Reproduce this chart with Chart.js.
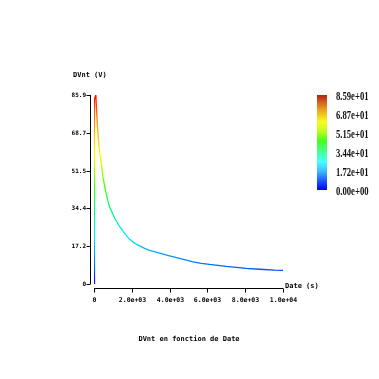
<!DOCTYPE html>
<html><head><meta charset="utf-8">
<script src="https://cdn.jsdelivr.net/npm/chart.js@4/dist/chart.umd.min.js"></script>
<style>html,body{margin:0;padding:0;background:#fff}canvas{display:block}</style>
</head><body>
<canvas id="c" width="379" height="379"></canvas>
<script>
const timeValues = [0, 10, 40, 95, 145, 200, 260, 330, 400, 470, 540, 620, 700, 770, 830, 1095, 1360, 1620, 1890, 2150, 2420, 2680, 2950, 3480, 4000, 4530, 4890, 5240, 5680, 6120, 6560, 7000, 7530, 8060, 8770, 9560, 10000];
const dvntValues = [0, 61, 84, 85.9, 77.7, 69.7, 63, 58, 54, 49, 45.5, 42, 39, 36.5, 35, 29.9, 26.1, 23.0, 20.3, 18.5, 17.3, 16.2, 15.3, 14.0, 12.8, 11.7, 10.8, 10.1, 9.4, 8.9, 8.5, 8.0, 7.6, 7.1, 6.7, 6.3, 6.2];
const xTickValues = [0, 2000, 4000, 6000, 8000, 10000];
const xTickLabels = ['0', '2.0e+03', '4.0e+03', '6.0e+03', '8.0e+03', '1.0e+04'];
const yTickValues = [0, 17.2, 34.4, 51.5, 68.7, 85.9];
const yTickLabels = ['0', '17.2', '34.4', '51.5', '68.7', '85.9'];
const colorbarValues = [85.9, 68.7, 51.5, 34.4, 17.2, 0];
const colorbarLabels = ['8.59e+01', '6.87e+01', '5.15e+01', '3.44e+01', '1.72e+01', '0.00e+00'];
const xTitle = 'Date (s)';
const yTitle = 'DVnt (V)';
const chartTitle = 'DVnt en fonction de Date';
const vMin = 0, vMax = 85.9, tMin = 0, tMax = 10000;

const lineStops = [
  [0.0, 'rgb(0,0,255)'], [0.1, 'rgb(0,110,255)'], [0.25, 'rgb(0,235,255)'],
  [0.4, 'rgb(0,255,120)'], [0.52, 'rgb(80,255,0)'], [0.68, 'rgb(255,255,0)'],
  [0.85, 'rgb(255,150,0)'], [1.0, 'rgb(255,0,0)']
];
const barStops = [
  [0.0, 'rgb(0,0,255)'], [0.1, 'rgb(30,90,255)'], [0.2, 'rgb(60,190,255)'],
  [0.3, 'rgb(70,255,255)'], [0.42, 'rgb(70,255,130)'], [0.52, 'rgb(70,255,30)'],
  [0.62, 'rgb(190,255,30)'], [0.72, 'rgb(250,250,30)'], [0.85, 'rgb(230,160,30)'],
  [0.93, 'rgb(210,90,30)'], [1.0, 'rgb(180,30,20)']
];

const axesPlugin = {
  id: 'axesPlugin',
  afterDraw(chart) {
    const c = chart.ctx, xs = chart.scales.x, ys = chart.scales.y;
    const yAxisX = 90.5, xAxisY = 288.5;
    c.save();
    c.strokeStyle = '#000'; c.lineWidth = 1; c.fillStyle = '#000';
    // y axis
    const yTop = ys.getPixelForValue(vMax), yBot = ys.getPixelForValue(vMin);
    c.beginPath(); c.moveTo(yAxisX, yTop); c.lineTo(yAxisX, yBot); c.stroke();
    c.font = 'bold 6px "DejaVu Sans Mono"';
    c.textAlign = 'right'; c.textBaseline = 'middle';
    yTickValues.forEach((v, i) => {
      const y = Math.round(ys.getPixelForValue(v)) + 0.5;
      c.beginPath(); c.moveTo(yAxisX - 4, y); c.lineTo(yAxisX, y); c.stroke();
      c.fillText(yTickLabels[i], 86, y);
    });
    // x axis
    const xL = xs.getPixelForValue(tMin), xR = xs.getPixelForValue(tMax);
    c.beginPath(); c.moveTo(xL, xAxisY); c.lineTo(xR, xAxisY); c.stroke();
    c.font = 'bold 6.5px "DejaVu Sans Mono"';
    c.textAlign = 'center'; c.textBaseline = 'middle';
    xTickValues.forEach((v, i) => {
      const x = Math.round(xs.getPixelForValue(v)) + 0.5;
      c.beginPath(); c.moveTo(x, xAxisY); c.lineTo(x, xAxisY + 4); c.stroke();
      c.fillText(xTickLabels[i], x, 300);
    });
    // titles
    c.font = 'bold 7px "DejaVu Sans Mono"';
    c.textAlign = 'left';
    c.fillText(yTitle, 73, 75);
    c.fillText(xTitle, 285, 286);
    c.textAlign = 'center';
    c.fillText(chartTitle, 189, 339);
    // colorbar
    const bx = 317, bw = 10, bTop = 95, bBot = 190;
    const g = c.createLinearGradient(0, bBot, 0, bTop);
    barStops.forEach(s => g.addColorStop(s[0], s[1]));
    c.fillStyle = g;
    c.fillRect(bx, bTop, bw, bBot - bTop);
    c.fillStyle = '#111';
    c.font = 'bold 12px "Liberation Serif"';
    c.textAlign = 'left'; c.textBaseline = 'middle';
    colorbarValues.forEach((v, i) => {
      const y = bBot - (v - vMin) / (vMax - vMin) * (bBot - bTop) + 1.5;
      c.save();
      c.translate(336, y);
      c.scale(0.72, 1);
      c.fillText(colorbarLabels[i], 0, 0);
      c.restore();
    });
    c.restore();
  }
};

new Chart(document.getElementById('c'), {
  type: 'line',
  data: {
    datasets: [{
      data: timeValues.map((t, i) => ({ x: t, y: dvntValues[i] })),
      borderWidth: 1.3,
      pointRadius: 0,
      tension: 0,
      fill: false,
      borderColor: (ctx) => {
        const ch = ctx.chart;
        if (!ch.chartArea) return 'rgb(0,110,255)';
        const y0 = ch.scales.y.getPixelForValue(vMin), y1 = ch.scales.y.getPixelForValue(vMax);
        const g = ch.ctx.createLinearGradient(0, y0, 0, y1);
        lineStops.forEach(s => g.addColorStop(s[0], s[1]));
        return g;
      }
    }]
  },
  options: {
    responsive: false,
    animation: false,
    devicePixelRatio: 1,
    layout: { padding: { left: 94, right: 96, top: 95, bottom: 95 } },
    scales: {
      x: { type: 'linear', min: tMin, max: tMax, display: false },
      y: { type: 'linear', min: vMin, max: vMax, display: false }
    },
    plugins: { legend: { display: false }, tooltip: { enabled: false }, title: { display: false } }
  },
  plugins: [axesPlugin]
});
</script>
</body></html>
